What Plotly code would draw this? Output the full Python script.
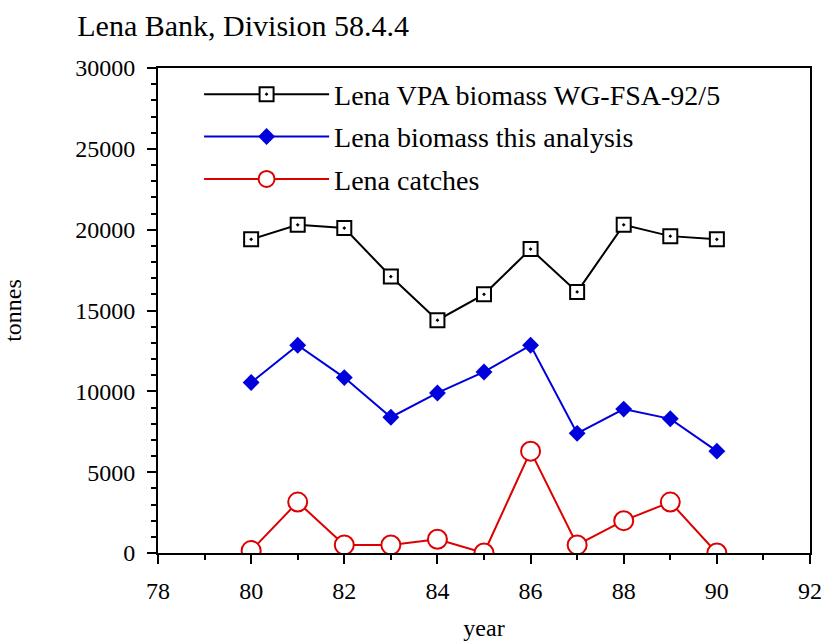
import plotly.graph_objects as go

# data
years = [80, 81, 82, 83, 84, 85, 86, 87, 88, 89, 90]
vpa_biomass = [19400, 20300, 20100, 17100, 14400, 16000, 18800, 16150, 20300, 19600, 19400]
this_biomass = [10550, 12850, 10850, 8400, 9900, 11200, 12850, 7400, 8900, 8300, 6300]
catches = [150, 3150, 500, 500, 850, 0, 6300, 500, 2000, 3150, 0]

serif = "Liberation Serif"

fig = go.Figure()

fig.add_trace(go.Scatter(
    x=years, y=vpa_biomass, mode="lines+markers",
    name="Lena VPA biomass WG-FSA-92/5", legendgroup="a",
    line=dict(color="black", width=2),
    marker=dict(symbol="square-dot", size=14, color="white",
                line=dict(color="black", width=2))
))

fig.add_trace(go.Scatter(
    x=years, y=this_biomass, mode="lines+markers",
    name="Lena biomass this analysis", legendgroup="b",
    line=dict(color="#0000dd", width=2),
    marker=dict(symbol="diamond", size=13, color="#0000dd")
))

fig.add_trace(go.Scatter(
    x=years, y=catches, mode="lines+markers",
    name="Lena catches", legendgroup="c",
    line=dict(color="#dd0000", width=2),
    marker=dict(symbol="circle", size=19, color="white",
                line=dict(color="#dd0000", width=2))
))

fig.update_layout(
    width=822, height=644,
    margin=dict(l=158, r=12, t=68, b=91, autoexpand=False),
    paper_bgcolor="white", plot_bgcolor="white",
    font=dict(family=serif, size=24, color="black"),
    title=dict(text="Lena Bank, Division 58.4.4", x=0.094, xanchor="left",
               y=0.961, yanchor="middle", font=dict(size=30)),
    showlegend=True,
    legend=dict(x=0.063, y=0.997, xanchor="left", yanchor="top",
                bgcolor="rgba(0,0,0,0)", font=dict(size=28),
                itemwidth=125, tracegroupgap=3),
)

fig.update_xaxes(
    range=[78, 92], dtick=2, tick0=78, automargin=True,
    showgrid=False, zeroline=False,
    showline=True, linecolor="black", linewidth=2, mirror=True,
    ticks="outside", ticklen=9, tickwidth=2, tickcolor="black",
    minor=dict(dtick=1, ticks="outside", ticklen=5, tickwidth=1.5, tickcolor="black"),
    title=dict(text="year", standoff=16, font=dict(size=24)),
    tickfont=dict(size=24), ticklabelstandoff=6, ticklabeloverflow="allow",
)

fig.update_yaxes(
    range=[0, 30000], dtick=5000, tickformat="d", automargin=True,
    showgrid=False, zeroline=False,
    showline=True, linecolor="black", linewidth=2, mirror=True,
    ticks="outside", ticklen=9, tickwidth=2, tickcolor="black",
    minor=dict(dtick=1000, ticks="outside", ticklen=5, tickwidth=1.5, tickcolor="black"),
    title=dict(text="tonnes", standoff=50, font=dict(size=24)),
    tickfont=dict(size=24), ticklabelstandoff=7,
)

# drop the default page margin so the figure sits at the window's top-left corner
fig.write_html("out.html",
               config={"displayModeBar": False},
               post_script="document.body.style.margin='0';"
                           "document.documentElement.style.overflow='hidden';")
